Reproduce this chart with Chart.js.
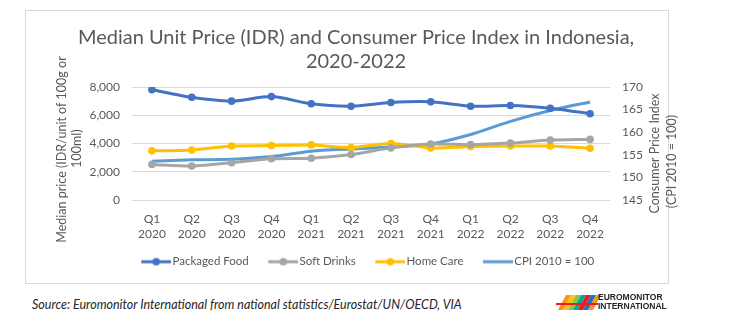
<!DOCTYPE html>
<html lang="en">
<head>
<meta charset="UTF-8">
<title>Median Unit Price and CPI in Indonesia</title>
<style>
  body {
    margin: 0;
    background: #fff;
    font-family: Lato, sans-serif;
  }
  #frame {
    position: absolute;
    left: 25px;
    top: 10px;
    width: 642px;
    height: 272px;
    border: 1px solid #d9d9d9;
  }
  #chart-wrap {
    position: absolute;
    left: 0;
    top: 0;
    width: 730px;
    height: 290px;
  }
  #source {
    position: absolute;
    left: 32px;
    top: 297px;
    font-style: italic;
    font-size: 12.5px;
    color: #262626;
  }
  #logo {
    position: absolute;
    left: 556px;
    top: 290px;
  }
</style>
<script src="https://cdn.jsdelivr.net/npm/chart.js"></script>
</head>
<body>
<div id="frame"></div>
<div id="chart-wrap"><canvas id="priceChart" width="730" height="290"></canvas></div>
<div id="source">Source: Euromonitor International from national statistics/Eurostat/UN/OECD, VIA</div>
<canvas id="logo" width="160" height="24"></canvas>

<script>
const quarters = [
  ['Q1', '2020'], ['Q2', '2020'], ['Q3', '2020'], ['Q4', '2020'],
  ['Q1', '2021'], ['Q2', '2021'], ['Q3', '2021'], ['Q4', '2021'],
  ['Q1', '2022'], ['Q2', '2022'], ['Q3', '2022'], ['Q4', '2022']
];
const packagedFood = [7810, 7270, 7000, 7320, 6810, 6640, 6900, 6950, 6640, 6690, 6500, 6110];
const softDrinks = [2520, 2400, 2640, 2920, 2960, 3220, 3690, 3960, 3920, 4030, 4240, 4290];
const homeCare = [3480, 3540, 3820, 3850, 3900, 3710, 4000, 3690, 3780, 3820, 3820, 3660];
const cpi = [153.6, 153.9, 154.0, 154.6, 155.8, 156.3, 156.7, 157.4, 159.5, 162.4, 164.8, 166.7];

const chartTitle = ['Median Unit Price (IDR) and Consumer Price Index in Indonesia,', '2020-2022'];
const leftTitle = ['Median price (IDR/unit of 100g or', '100ml)'];
const rightTitle = ['Consumer Price Index', '(CPI 2010 = 100)'];

const GREY_TEXT = '#595959';
const GRID = '#d9d9d9';

// legend swatch: line with a dot, pushed to the right of a transparent margin
// so it sits close to its label and away from the previous entry
function legendSwatch(color, withDot) {
  const c = document.createElement('canvas');
  c.width = 44;
  c.height = 10;
  const ctx = c.getContext('2d');
  ctx.strokeStyle = color;
  ctx.lineWidth = 3;
  ctx.beginPath();
  ctx.moveTo(14, 5);
  ctx.lineTo(44, 5);
  ctx.stroke();
  if (withDot) {
    ctx.fillStyle = color;
    ctx.beginPath();
    ctx.arc(29, 5, 3.8, 0, Math.PI * 2);
    ctx.fill();
  }
  return c;
}

function series(label, data, color, axis, dots) {
  return {
    label: label,
    data: data,
    yAxisID: axis,
    borderColor: color,
    backgroundColor: color,
    borderWidth: 3,
    pointRadius: dots ? 3.8 : 0,
    pointHoverRadius: dots ? 3.8 : 0,
    pointBorderWidth: 0,
    tension: 0.25,
    swatch: legendSwatch(color, dots)
  };
}

// chart title and the two axis titles (both read bottom-to-top) are drawn by hand
const headings = {
  id: 'headings',
  afterDraw(chart) {
    const c = chart.ctx;
    c.save();
    c.fillStyle = GREY_TEXT;
    c.textAlign = 'center';
    c.textBaseline = 'middle';

    c.font = '20px Lato';
    c.fillText(chartTitle[0], 356, 38);
    c.fillText(chartTitle[1], 356, 62);

    const put = (text, x, y) => {
      c.save();
      c.translate(x, y);
      c.rotate(-Math.PI / 2);
      c.fillText(text, 0, 0);
      c.restore();
    };
    const mid = (chart.chartArea.top + chart.chartArea.bottom) / 2;
    c.font = '12.5px Lato';
    put(leftTitle[0], 62, mid + 6);
    put(leftTitle[1], 77, mid + 5);
    put(rightTitle[0], 655, mid + 10);
    put(rightTitle[1], 672, mid + 18);
    c.restore();
  }
};

const ctx = document.getElementById('priceChart').getContext('2d');
new Chart(ctx, {
  type: 'line',
  data: {
    labels: quarters,
    datasets: [
      series('Packaged Food', packagedFood, '#4472c4', 'y', true),
      series('Soft Drinks', softDrinks, '#a5a5a5', 'y', true),
      series('Home Care', homeCare, '#ffc000', 'y', true),
      series('CPI 2010 = 100', cpi, '#5b9bd5', 'y1', false)
    ]
  },
  plugins: [headings],
  options: {
    responsive: false,
    animation: false,
    layout: { padding: { top: 87, left: 46, right: 50, bottom: 12.5 } },
    plugins: {
      title: { display: false },
      legend: {
        position: 'bottom',
        labels: {
          color: GREY_TEXT,
          font: { family: 'Lato', size: 11.5 },
          usePointStyle: true,
          pointStyleWidth: 35,
          padding: 10,
          generateLabels(chart) {
            return chart.data.datasets.map((ds, i) => ({
              text: ds.label,
              fontColor: GREY_TEXT,
              pointStyle: ds.swatch,
              datasetIndex: i,
              hidden: false,
              lineWidth: 0
            }));
          }
        }
      },
      tooltip: { enabled: false }
    },
    scales: {
      x: {
        offset: true,
        grid: { display: false, drawTicks: false },
        border: { display: false },
        ticks: {
          color: GREY_TEXT,
          font: { family: 'Lato', size: 12, lineHeight: 1.3 },
          maxRotation: 0,
          autoSkip: false,
          padding: 11
        },
        afterFit(scale) { scale.height = 46; }
      },
      y: {
        position: 'left',
        min: 0,
        max: 8000,
        ticks: {
          stepSize: 2000,
          color: GREY_TEXT,
          font: { family: 'Lato', size: 12 },
          padding: 12,
          callback: v => v.toLocaleString('en-US')
        },
        grid: { color: GRID, drawTicks: false },
        border: { display: false },
        afterFit(scale) { scale.width = 86; }
      },
      y1: {
        position: 'right',
        min: 145,
        max: 170,
        ticks: {
          stepSize: 5,
          color: GREY_TEXT,
          font: { family: 'Lato', size: 12 },
          padding: 12
        },
        grid: { display: false, drawTicks: false },
        border: { display: false },
        afterFit(scale) { scale.width = 70; }
      }
    }
  }
});

// brand mark under the chart frame
const lg = document.getElementById('logo').getContext('2d');
const stripes = ['#f7941d', '#ffc20e', '#8dc63f', '#00a99d', '#ed1c24', '#1c75bc', '#f7941d'];
stripes.forEach((col, i) => {
  lg.fillStyle = col;
  lg.beginPath();
  lg.moveTo(2 + i * 5, 20);
  lg.lineTo(10 + i * 5, 5);
  lg.lineTo(15 + i * 5, 5);
  lg.lineTo(7 + i * 5, 20);
  lg.closePath();
  lg.fill();
});
lg.fillStyle = '#ed1c24';
lg.fillRect(0, 13, 42, 2);
lg.fillStyle = '#262626';
lg.font = 'bold 8.5px "Liberation Sans", sans-serif';
lg.fillText('EUROMONITOR', 42, 10);
lg.fillText('INTERNATIONAL', 42, 18.5);
</script>
</body>
</html>
